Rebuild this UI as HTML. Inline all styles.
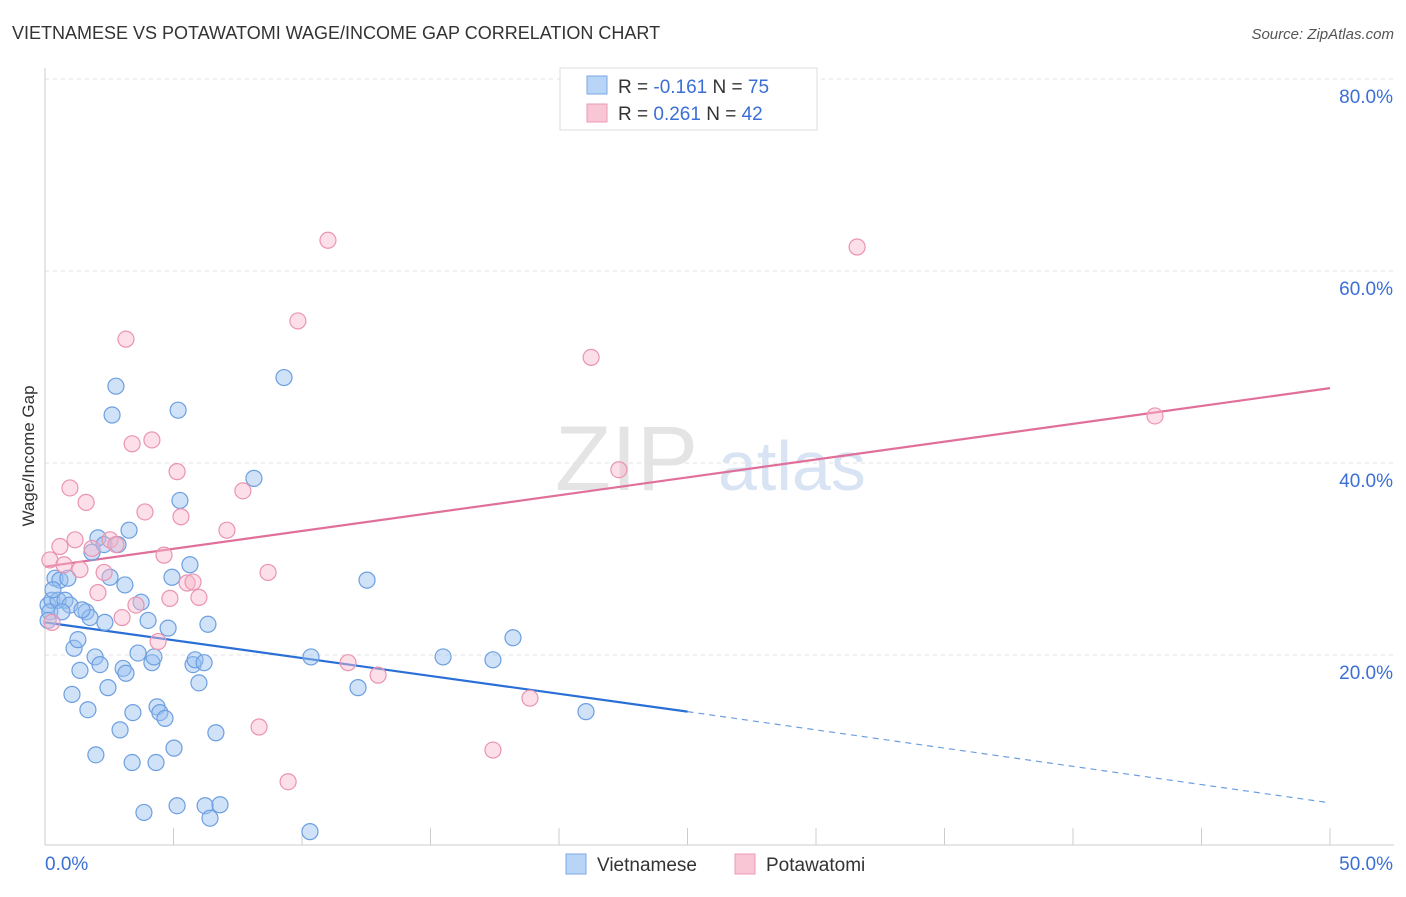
<!DOCTYPE html>
<html><head><meta charset="utf-8">
<style>
body{margin:0;background:#fff;font-family:"Liberation Sans",sans-serif;}
svg text{font-family:"Liberation Sans",sans-serif;}
</style></head>
<body>
<svg id="chart" width="1406" height="892" xmlns="http://www.w3.org/2000/svg">
<text x="12" y="39" font-size="18" fill="#333">VIETNAMESE VS POTAWATOMI WAGE/INCOME GAP CORRELATION CHART</text>
<text x="1394" y="39" font-size="15" fill="#555" text-anchor="end" font-style="italic">Source: ZipAtlas.com</text>
<g>
<text x="555" y="490" font-size="92" fill="#e4e4e4" font-family="Liberation Serif">ZIP</text>
<text x="718" y="490" font-size="70" fill="#d8e4f4">atlas</text>
</g>
<g id="grid"></g>
<g id="axes"></g>
<g id="trends"></g>
<g id="points"></g>
<text transform="translate(34,456) rotate(-90)" font-size="17" fill="#333" text-anchor="middle">Wage/Income Gap</text>
<g>
<rect x="560" y="68" width="257" height="62" fill="#fff" stroke="#ddd"/>
<rect x="587" y="76" width="20" height="18" fill="#b8d4f6" stroke="#7aa8e4"/>
<rect x="587" y="104" width="20" height="18" fill="#f9c6d6" stroke="#ec9ab4"/>
<text x="618" y="93" font-size="19" fill="#333">R = <tspan fill="#3b6fd6">-0.161</tspan>   N = <tspan fill="#3b6fd6">75</tspan></text>
<text x="618" y="120" font-size="19" fill="#333">R = <tspan fill="#3b6fd6"> 0.261</tspan>   N = <tspan fill="#3b6fd6">42</tspan></text>
</g>
<g>
<rect x="566" y="854" width="20" height="20" fill="#b8d4f6" stroke="#7aa8e4"/>
<text x="597" y="871" font-size="19" fill="#333">Vietnamese</text>
<rect x="735" y="854" width="20" height="20" fill="#f9c6d6" stroke="#ec9ab4"/>
<text x="766" y="871" font-size="19" fill="#333">Potawatomi</text>
</g>
</svg>
<script>
const yTicks=[20,40,60,80];
const yTickLabels=["20.0%","40.0%","60.0%","80.0%"];
const xTicks=[0,5,10,15,20,25,30,35,40,45,50];
const xLabels=["0.0%","50.0%"];
const vietX=[0.12,0.27,0.39,0.19,0.51,0.58,0.78,0.89,0.97,1.13,1.28,1.36,1.05,1.60,1.67,1.75,1.83,1.95,1.98,2.06,2.14,2.30,2.33,2.45,2.53,2.61,2.76,2.84,2.92,3.04,3.11,3.15,3.27,3.39,3.42,3.62,3.74,3.85,4.01,4.16,4.24,4.32,4.36,4.47,4.67,4.79,4.94,5.02,5.18,5.14,5.25,5.64,5.76,5.84,5.99,6.19,6.23,6.34,6.42,6.65,6.81,8.13,9.30,10.31,10.35,12.18,12.53,15.49,17.43,18.21,21.05,0.12,0.66,1.44,0.31];
const vietY=[25.2,25.7,28.0,24.5,25.7,27.8,25.7,28.0,25.2,20.7,21.6,18.4,15.9,24.5,14.3,23.9,30.7,19.8,9.6,32.2,19.0,31.5,23.4,16.6,28.1,45.0,48.0,31.5,12.2,18.6,27.3,18.1,33.0,8.8,14.0,20.2,25.5,3.6,23.6,19.2,19.8,8.8,14.6,14.0,13.4,22.8,28.1,10.3,45.5,4.3,36.1,29.4,19.0,19.5,17.1,19.2,4.3,23.2,3.0,11.9,4.4,38.4,48.9,1.6,19.8,16.6,27.8,19.8,19.5,21.8,14.1,23.6,24.5,24.7,26.8];
const potaX=[0.19,0.27,0.58,0.74,0.97,1.17,1.36,1.60,1.83,2.06,2.30,2.53,2.76,3.00,3.15,3.39,3.54,3.89,4.16,4.40,4.63,4.86,5.14,5.29,5.53,5.76,5.99,7.08,7.70,8.33,8.68,9.46,9.84,11.01,11.79,12.96,17.43,18.87,21.25,22.33,31.60,43.19];
const potaY=[29.9,23.4,31.3,29.4,37.4,32.0,28.9,35.9,31.1,26.5,28.6,32.0,31.5,23.9,52.9,42.0,25.2,34.9,42.4,21.4,30.4,25.9,39.1,34.4,27.5,27.6,26.0,33.0,37.1,12.5,28.6,6.8,54.8,63.2,19.2,17.9,10.1,15.5,51.0,39.3,62.5,44.9];
const vietTrend=[[0,23.4],[25,14.1],[50,4.6]];
const potaTrend=[[0,29.2],[50,47.8]];

const NS="http://www.w3.org/2000/svg";
const X=v=>45+v*25.7, Y=v=>847-v*9.6;
function mk(tag,attrs,parent){const e=document.createElementNS(NS,tag);for(const k in attrs)e.setAttribute(k,attrs[k]);document.getElementById(parent).appendChild(e);return e;}
yTicks.forEach((t,i)=>{
  const l=mk('line',{x1:45,x2:1394,y1:Y(t),y2:Y(t),stroke:'#e2e2e2','stroke-dasharray':'4,4'},'grid');
  
  
  const tx=mk('text',{x:1393,y:Y(t)+24,'font-size':19,fill:'#3b6fd6','text-anchor':'end'},'grid');
  tx.textContent=yTickLabels[i];
  
  
});
const ax=mk('line',{x1:45,x2:45,y1:68,y2:845,stroke:'#ccc'},'axes');


const bx=mk('line',{x1:45,x2:1394,y1:845,y2:845,stroke:'#ccc'},'axes');


xTicks.forEach(t=>{
  const l=mk('line',{x1:X(t),x2:X(t),y1:828,y2:845,stroke:'#ccc'},'axes');
  
  
});
const xl0=mk('text',{x:45,y:870,'font-size':19,fill:'#3b6fd6'},'axes');xl0.textContent=xLabels[0];


const xl1=mk('text',{x:1393,y:870,'font-size':19,fill:'#3b6fd6','text-anchor':'end'},'axes');xl1.textContent=xLabels[1];


vietX.forEach((v,i)=>{
  const c=mk('circle',{cx:X(v),cy:Y(vietY[i]),r:8,fill:'rgba(150,190,240,0.45)',stroke:'#6d9fe0','stroke-width':1.2},'points');
  
  
});
potaX.forEach((v,i)=>{
  const c=mk('circle',{cx:X(v),cy:Y(potaY[i]),r:8,fill:'rgba(248,185,205,0.45)',stroke:'#ea94b0','stroke-width':1.2},'points');
  
  
});
const vt1=mk('line',{x1:X(vietTrend[0][0]),y1:Y(vietTrend[0][1]),x2:X(vietTrend[1][0]),y2:Y(vietTrend[1][1]),stroke:'#2a6fd6','stroke-width':2.2},'trends');


const vt2=mk('line',{x1:X(vietTrend[1][0]),y1:Y(vietTrend[1][1]),x2:X(vietTrend[2][0]),y2:Y(vietTrend[2][1]),stroke:'#6d9fe0','stroke-width':1.2,'stroke-dasharray':'6,5'},'trends');


const pt=mk('line',{x1:X(potaTrend[0][0]),y1:Y(potaTrend[0][1]),x2:X(potaTrend[1][0]),y2:Y(potaTrend[1][1]),stroke:'#e0709a','stroke-width':2.2},'trends');


</script>
</body></html>
